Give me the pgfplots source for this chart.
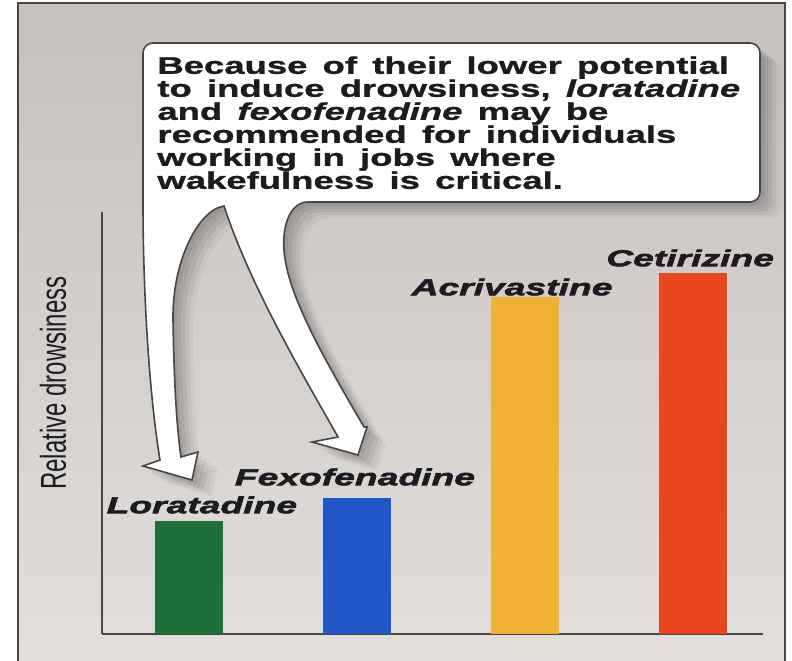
\documentclass[border=0pt]{standalone}
\usepackage{pgfplots}
\pgfplotsset{compat=1.18}
\usepackage{fontspec}
\setmainfont{Liberation Sans}
\newfontfamily\boxfont[FakeStretch=1.52,WordSpace=1.5,FakeBold=1.2]{Liberation Sans}
\newfontfamily\labfont[FakeStretch=1.62,FakeBold=2.6]{Liberation Sans}
\definecolor{bgtop}{RGB}{198,192,188}
\definecolor{bgbot}{RGB}{226,223,220}
\definecolor{cgreen}{RGB}{28,112,56}
\definecolor{cblue}{RGB}{32,86,200}
\definecolor{cyellow}{RGB}{240,178,52}
\definecolor{cred}{RGB}{232,70,30}
\definecolor{framegray}{RGB}{70,70,70}
\definecolor{textgray}{RGB}{28,28,32}
\begin{document}
\begin{tikzpicture}
\path[use as bounding box] (0,0) rectangle (396pt,330pt);
\fill[white] (0,0) rectangle (396pt,330pt);
\shade[top color=bgtop,bottom color=bgbot] (9pt,-5pt) rectangle (392.5pt,328.5pt);
\draw[framegray,line width=1pt] (9pt,-5pt) rectangle (392.5pt,328.5pt);

\begin{axis}[
  at={(51pt,13pt)}, anchor=south west,
  scale only axis, width=330.5pt, height=211pt,
  xmin=-0.518, xmax=3.42, ymin=0, ymax=422,
  axis x line*=bottom, axis y line*=left,
  axis line style={draw=framegray,line width=1pt,-},
  xtick=\empty, ytick=\empty,
  ybar, bar width=34pt, clip=false,
]
\addplot[fill=cgreen,draw=none,bar shift=0pt] coordinates {(0,113)};
\addplot[fill=cblue,draw=none,bar shift=0pt] coordinates {(1,136)};
\addplot[fill=cyellow,draw=none,bar shift=0pt] coordinates {(2,337)};
\addplot[fill=cred,draw=none,bar shift=0pt] coordinates {(3,361)};
\begin{scope}[every node/.style={font=\labfont\bfseries\itshape\fontsize{11.5}{12}\selectfont,text=textgray,inner sep=0pt}]
\node at (axis cs:0.077,129) {Loratadine};
\node at (axis cs:0.989,157) {Fexofenadine};
\node at (axis cs:1.925,347) {Acrivastine};
\node at (axis cs:2.986,376) {Cetirizine};
\end{scope}
\end{axis}

\node[rotate=90,inner sep=0pt,text=textgray,font=\fontsize{12}{12}\selectfont] at (26.5pt,138.5pt) {\scalebox{1}[1.5]{Relative drowsiness}};

\begin{scope}[x=0.5pt,y=-0.5pt,yshift=330pt]
\def\calloutpath{(143,150) [rounded corners=5] -- (143,43) -- (760,43) -- (760,202) -- (318,202) [sharp corners]
  .. controls (292,202) and (282,222) .. (284,250)
  .. controls (287,295) and (325,360) .. (364,427)
  -- (367,427) -- (358,455) -- (312,442) -- (338,437)
  .. controls (300,370) and (250,285) .. (224,206)
  .. controls (198,210) and (172,262) .. (173,320)
  .. controls (174,385) and (177,430) .. (181,457)
  -- (198,452) -- (192,480) -- (143,466) -- (160,460)
  .. controls (150,400) and (143,300) .. (143,202) -- cycle}
\fill[black,opacity=0.06,xshift=2pt,yshift=-2pt] \calloutpath;
\fill[black,opacity=0.06,xshift=4pt,yshift=-3.5pt] \calloutpath;
\fill[black,opacity=0.06,xshift=6pt,yshift=-5pt] \calloutpath;
\fill[black,opacity=0.05,xshift=8pt,yshift=-6.5pt] \calloutpath;
\fill[black,opacity=0.04,xshift=10pt,yshift=-8pt] \calloutpath;
\filldraw[fill=white,draw=framegray,line width=0.8pt] \calloutpath;
\node[anchor=north west,inner sep=0pt,align=left,text=textgray,
  font=\boxfont\bfseries\fontsize{12}{11.5}\selectfont] at (157,56)
  {Because of their lower potential\\to induce drowsiness, \textit{loratadine}\\and \textit{fexofenadine} may be\\recommended for individuals\\working in jobs where\\wakefulness is critical.};
\end{scope}
\end{tikzpicture}
\end{document}
